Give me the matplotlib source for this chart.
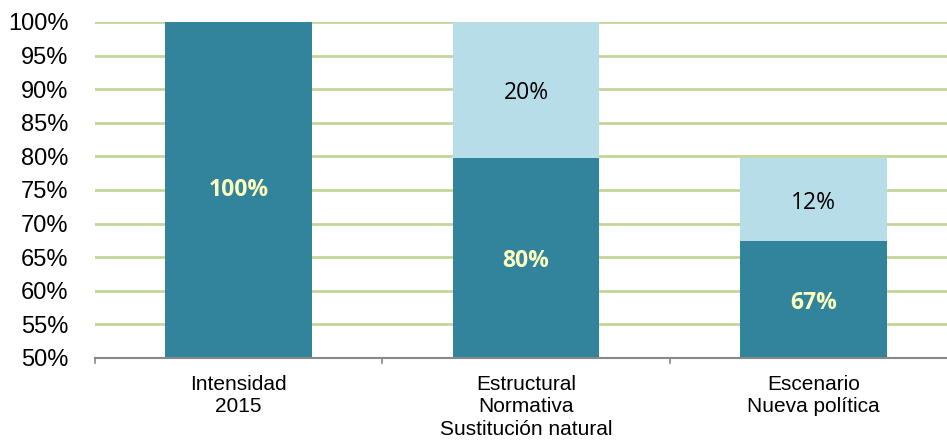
import matplotlib
matplotlib.use("Agg")
import matplotlib.pyplot as plt
import numpy as np

categories = ["Intensidad\n2015", "Estructural\nNormativa\nSustitución natural", "Escenario\nNueva política"]
base_vals = [1.00, 0.797, 0.674]
extra_vals = [0.0, 0.203, 0.123]
yticks = [0.50, 0.55, 0.60, 0.65, 0.70, 0.75, 0.80, 0.85, 0.90, 0.95, 1.00]

dark = "#31849B"
light = "#B7DEE8"
grid = "#C3D69B"

fig = plt.figure(figsize=(9.47, 4.43), dpi=100)
ax = fig.add_axes([95/947, 1-358/443, 862/947, 336/443])

x = np.arange(len(categories))
w = 0.51
ax.bar(x, base_vals, width=w, color=dark, zorder=3)
ax.bar(x, extra_vals, width=w, bottom=base_vals, color=light, zorder=3)

ax.set_xlim(-0.5, 2.5)
ax.set_ylim(0.5, 1.0)
ax.set_yticks(yticks)
ax.set_yticklabels([f"{int(round(t*100))}%" for t in yticks], fontsize=17, family="Liberation Sans")
ax.tick_params(axis="y", length=0, pad=19)
ax.yaxis.grid(True, color=grid, linewidth=2, zorder=0)
ax.set_axisbelow(True)

ax.set_xticks(x)
ax.set_xticklabels(categories, fontsize=15, family="Liberation Sans", linespacing=1.25)
ax.tick_params(axis="x", length=0, pad=12)
for b in [-0.5, 0.5, 1.5, 2.5]:
    ax.plot([b, b], [0.5, 0.5 - 0.008], color="#888888", lw=1.2, clip_on=False, zorder=4)

for s in ["top", "right", "left"]:
    ax.spines[s].set_visible(False)
ax.spines["bottom"].set_color("#888888")
ax.spines["bottom"].set_linewidth(1.5)
ax.spines["bottom"].set_zorder(4)

for i in range(len(categories)):
    b = base_vals[i]
    ax.text(x[i], (0.5 + b) / 2 if b < 1 else 0.755, f"{int(round(b*100))}%",
            ha="center", va="center_baseline", fontsize=16.5, fontweight="bold",
            color="#FFFFC0", family="Open Sans", zorder=5)
    e = extra_vals[i]
    if e > 0:
        ax.text(x[i], b + e / 2, f"{int(round(e*100))}%", ha="center", va="center_baseline",
                fontsize=16.5, color="black", family="Open Sans", zorder=5)

fig.savefig("out.png", dpi=100)
